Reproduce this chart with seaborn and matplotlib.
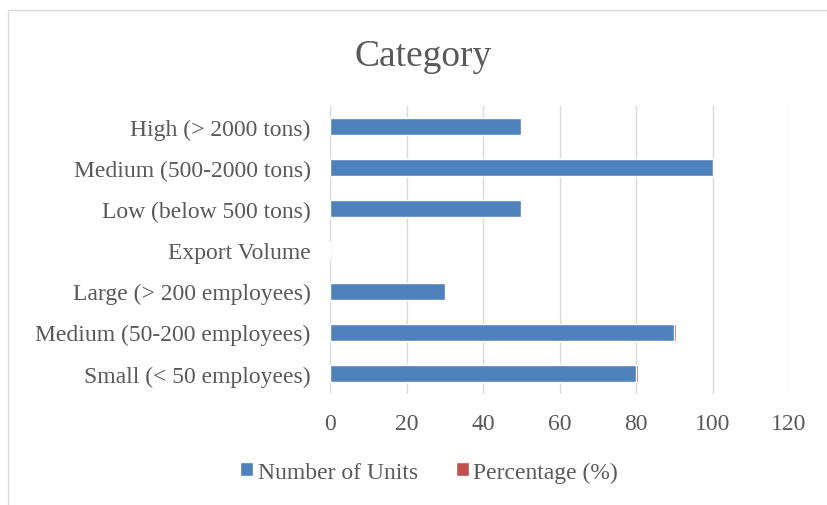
import matplotlib
matplotlib.use("Agg")
import matplotlib.pyplot as plt
import seaborn as sns
import pandas as pd
from matplotlib.patches import Rectangle, Patch

categories = ["High (> 2000 tons)", "Medium (500-2000 tons)", "Low (below 500 tons)",
              "Export Volume", "Large (> 200 employees)", "Medium (50-200 employees)",
              "Small (< 50 employees)"]
units = [50, 100, 50, 0, 30, 90, 80]
percentage = [0.25, 0.5, 0.25, 0, 0.15, 0.45, 0.4]
xticks = [0, 20, 40, 60, 80, 100, 120]

sns.set_theme(style="white")
plt.rcParams['font.family'] = ['Liberation Serif', 'DejaVu Serif']

blue = "#4F81BD"
red = "#C0504D"
txt = "#595959"

df = pd.DataFrame({"cat": categories, "units": units, "pct": percentage})
df["total"] = df["units"] + df["pct"]

fig = plt.figure(figsize=(8.27, 5.06), dpi=100)
ax = fig.add_axes([330/827, 1-395/506, (789-330)/827, (395-107)/506])

sns.barplot(data=df, y="cat", x="total", color=red, orient="h", width=0.42,
            saturation=1, ax=ax, order=categories)
sns.barplot(data=df, y="cat", x="units", color=blue, orient="h", width=0.42,
            saturation=1, ax=ax, order=categories)

ax.set_xlim(0, 120)
ax.set_xticks(xticks)
ax.set_xticklabels([str(t) for t in xticks])
ax.set_xlabel("")
ax.set_ylabel("")
ax.grid(axis="x", color="#D9D9D9", linewidth=1)
ax.set_axisbelow(True)
for s in ax.spines.values():
    s.set_visible(False)
ax.tick_params(axis="both", length=0, labelsize=17, colors=txt)
ax.tick_params(axis="y", pad=14)
ax.tick_params(axis="x", pad=14)
for lab in ax.get_yticklabels():
    lab.set_color(txt)

fig.text(423/827, 1-57/506, "Category", ha="center", va="center", fontsize=27, color=txt)

handles = [Patch(facecolor=blue, label="Number of Units"),
           Patch(facecolor=red, label="Percentage (%)")]
fig.legend(handles=handles, loc="center", bbox_to_anchor=(429/827, 1-473/506), ncol=2,
           frameon=False, fontsize=17, labelcolor=txt, handlelength=0.55,
           handleheight=0.55, handletextpad=0.2, columnspacing=1.6)

fig.patches.append(Rectangle((8/827, -0.01), 1.0, 1-11/506 + 0.01, transform=fig.transFigure,
                             fill=False, edgecolor="#D9D9D9", linewidth=1))

fig.savefig("out.png", dpi=100)
